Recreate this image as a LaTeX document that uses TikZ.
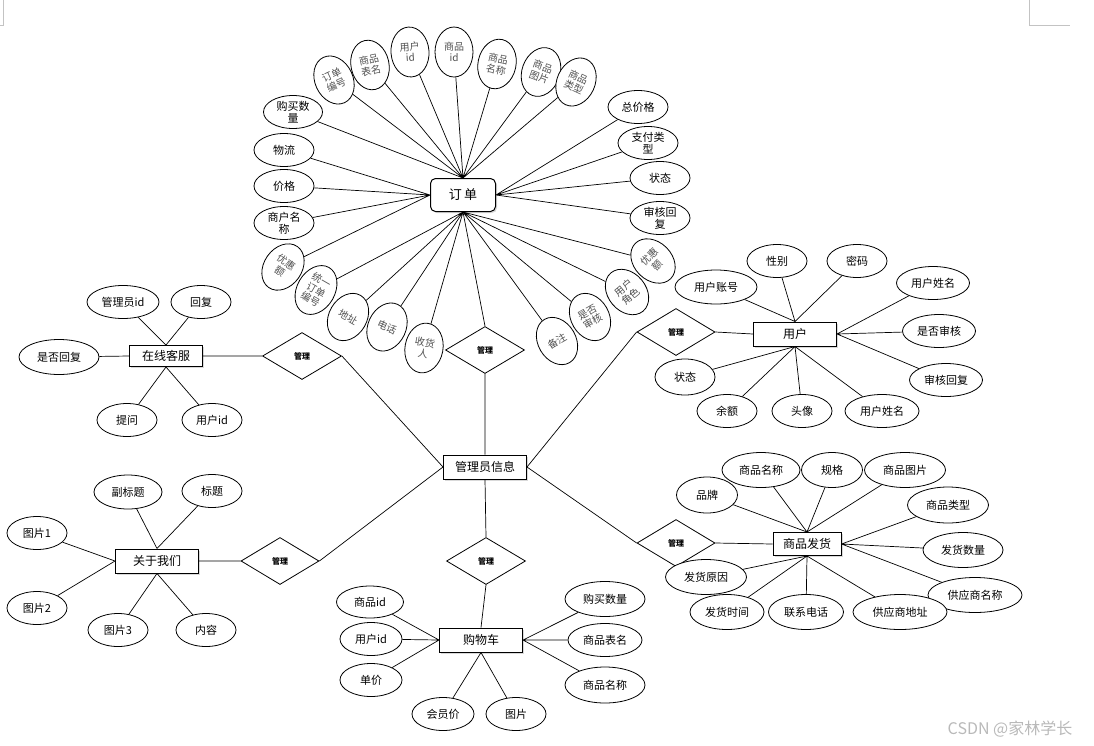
\documentclass[tikz,border=0pt]{standalone}
\usepackage{fontspec}
\setmainfont{Noto Sans CJK SC}
\usepackage{tikz}
\usetikzlibrary{shapes, shadows}
\definecolor{markgray}{RGB}{195,195,195}
\definecolor{tiltgray}{RGB}{80,80,80}
\definecolor{wmgray}{RGB}{185,185,185}
\tikzset{
  entity/.style={draw, line width=1pt, fill=white, minimum width=83pt, minimum height=24pt, inner sep=0pt,
    font=\fontsize{12}{14}\selectfont, drop shadow={shadow xshift=1.5pt, shadow yshift=-1.5pt, opacity=0.3}},
  attr/.style={draw, ellipse, fill=white, line width=0.8pt, minimum width=60pt, minimum height=33pt, inner sep=0pt,
    align=center, font=\fontsize{11}{12}\selectfont},
  tilted/.style={attr, minimum width=38pt, minimum height=50pt, text=tiltgray, rotate=#1,
    font=\fontsize{10}{11}\selectfont},
  rel/.style={draw, diamond, fill=white, line width=0.8pt, minimum width=79pt, minimum height=47pt, inner sep=0pt,
    font=\fontsize{8}{9}\selectfont\bfseries},
  link/.style={line width=0.7pt}
}

\begin{document}
\begin{tikzpicture}[x=1pt, y=-1pt]
  \useasboundingbox (0,0) rectangle (1094,745);
  % page corner marks
  \draw[markgray, line width=0.8pt] (0,25) -- (3,25) -- (3,0);
  \draw[markgray, line width=0.8pt] (1029,0) -- (1029,25) -- (1070,25);

  % entities
  \node[entity, rounded corners=5pt, minimum width=65pt, minimum height=33pt, font=\fontsize{13}{15}\selectfont] (order) at (463,195) {订\,单};
  \node[entity] (admin) at (485,467) {管理员信息};
  \node[entity, minimum width=73pt, minimum height=21pt] (kefu) at (166,356) {在线客服};
  \node[entity] (user) at (795,334) {用户};
  \node[entity] (about) at (157,561) {关于我们};
  \node[entity] (cart) at (481,640) {购物车};
  \node[entity, minimum width=68pt, minimum height=23pt] (ship) at (807,544) {商品发货};

  % relations
  \node[rel] (gl0) at (485,350) {管理};
  \node[rel] (gl1) at (302,356) {管理};
  \node[rel, minimum width=78pt] (gl2) at (676,332) {管理};
  \node[rel, minimum width=78pt] (gl3) at (280,561) {管理};
  \node[rel] (gl4) at (486,561) {管理};
  \node[rel, minimum width=78pt] (gl5) at (676,543) {管理};

  % order attributes
  \node[attr, minimum width=59pt] (obuy) at (293,112) {购买数\\量};
  \node[attr] (oflow) at (284,150) {物流};
  \node[attr] (oprice) at (284,186) {价格};
  \node[attr] (omerch) at (284,223) {商户名\\称};
  \node[attr] (ototal) at (638,107) {总价格};
  \node[attr] (opay) at (648,143) {支付类\\型};
  \node[attr] (ostate) at (660,178) {状态};
  \node[attr] (oreply) at (660,218) {审核回\\复};
  \node[tilted=25] (ono) at (334,80) {订单\\编号};
  \node[tilted=12] (otab) at (370,65) {商品\\表名};
  \node[tilted=4] (ouid) at (410,52) {用户\\id};
  \node[tilted=0] (ogid) at (454,52) {商品\\id};
  \node[tilted=-12] (ogname) at (497,64) {商品\\名称};
  \node[tilted=-20] (ogpic) at (541,72) {商品\\图片};
  \node[tilted=-25] (ogtype) at (576,82) {商品\\类型};
  \node[tilted=-35] (odisc) at (283,267) {优惠\\额};
  \node[tilted=-30, minimum height=52pt] (ouno) at (316,290) {统一\\订单\\编号};
  \node[tilted=-30] (oaddr) at (348,317) {地址};
  \node[tilted=-25] (otel) at (387,327) {电话};
  \node[tilted=-10] (orecv) at (424,348) {收货\\人};
  \node[tilted=30] (onote) at (557,341) {备注};
  \node[tilted=30] (ocheck) at (590,317) {是否\\审核};
  \node[tilted=40] (orole) at (627,292) {用户\\角色};
  \node[tilted=45] (odisc2) at (653,261) {优惠\\额};
  \draw[link] (obuy) -- (order.north) (ono) -- (order.north) (otab) -- (order.north)
    (ouid) -- (order.north) (ogid) -- (order.north) (ogname) -- (order.north)
    (ogpic) -- (order.north) (ogtype) -- (order.north);
  \draw[link] (oflow) -- (order.west) (oprice) -- (order.west) (omerch) -- (order.west) (odisc) -- (order.west);
  \draw[link] (ototal) -- (order.east) (opay) -- (order.east) (ostate) -- (order.east) (oreply) -- (order.east);
  \draw[link] (ouno) -- (order.south) (oaddr) -- (order.south) (otel) -- (order.south)
    (orecv) -- (order.south) (onote) -- (order.south) (ocheck) -- (order.south)
    (orole) -- (order.south) (odisc2) -- (order.south);

  % online service
  \node[attr, minimum width=72pt] (kadm) at (123,302) {管理员id};
  \node[attr] (kreply) at (201,302) {回复};
  \node[attr, minimum width=80pt, minimum height=35pt] (kdone) at (59,357) {是否回复};
  \node[attr] (kask) at (127,420) {提问};
  \node[attr] (kuid) at (212,420) {用户id};
  \draw[link] (kadm) -- (kefu.north) (kreply) -- (kefu.north) (kdone) -- (kefu.west)
    (kask) -- (kefu.south) (kuid) -- (kefu.south);

  % user
  \node[attr] (usex) at (777,261) {性别};
  \node[attr] (upwd) at (857,261) {密码};
  \node[attr, minimum width=82pt, minimum height=34pt] (uacc) at (716,287) {用户账号};
  \node[attr, minimum width=73pt] (uname) at (933,283) {用户姓名};
  \node[attr, minimum width=73pt] (ucheck) at (939,331) {是否审核};
  \node[attr, minimum width=73pt] (ureply) at (946,380) {审核回复};
  \node[attr, minimum height=36pt] (ustate) at (685,377) {状态};
  \node[attr] (ubal) at (727,411) {余额};
  \node[attr] (uhead) at (802,411) {头像};
  \node[attr, minimum width=74pt] (uname2) at (882,411) {用户姓名};
  \draw[link] (uacc) -- (user.north) (usex) -- (user.north) (upwd) -- (user.north)
    (uname) -- (user.east) (ucheck) -- (user.east) (ureply) -- (user.east)
    (ustate) -- (user.south) (ubal) -- (user.south) (uhead) -- (user.south) (uname2) -- (user.south);

  % about us
  \node[attr, minimum width=68pt, minimum height=34pt] (asub) at (128,492) {副标题};
  \node[attr] (atitle) at (212,491) {标题};
  \node[attr] (apic1) at (37,533) {图片1};
  \node[attr] (apic2) at (37,608) {图片2};
  \node[attr] (apic3) at (118,630) {图片3};
  \node[attr] (atext) at (206,630) {内容};
  \draw[link] (asub) -- (about.north) (atitle) -- (about.north) (apic1) -- (about.west)
    (apic2) -- (about.west) (apic3) -- (about.south) (atext) -- (about.south);

  % cart
  \node[attr, minimum width=67pt, minimum height=32pt] (cgid) at (370,602) {商品id};
  \node[attr, minimum width=62pt] (cuid) at (371,639) {用户id};
  \node[attr, minimum width=62pt] (cprice) at (371,680) {单价};
  \node[attr, minimum width=62pt] (cvip) at (443,714) {会员价};
  \node[attr] (cpic) at (516,714) {图片};
  \node[attr, minimum width=80pt, minimum height=35pt] (cnum) at (605,599) {购买数量};
  \node[attr, minimum width=74pt] (ctab) at (605,640) {商品表名};
  \node[attr, minimum width=80pt, minimum height=36pt] (cname) at (605,685) {商品名称};
  \draw[link] (cgid) -- (cart.west) (cuid) -- (cart.west) (cprice) -- (cart.west)
    (cvip) -- (cart.south) (cpic) -- (cart.south)
    (cnum) -- (cart.east) (ctab) -- (cart.east) (cname) -- (cart.east);

  % shipping
  \node[attr, minimum width=61pt, minimum height=36pt] (sbrand) at (707,495) {品牌};
  \node[attr, minimum width=78pt, minimum height=35pt] (sname) at (761,470) {商品名称};
  \node[attr, minimum width=61pt, minimum height=35pt] (sspec) at (832,470) {规格};
  \node[attr, minimum width=81pt, minimum height=35pt] (spic) at (905,470) {商品图片};
  \node[attr, minimum width=81pt, minimum height=36pt] (stype) at (948,505) {商品类型};
  \node[attr, minimum width=80pt, minimum height=35pt] (snum) at (963,550) {发货数量};
  \node[attr, minimum width=94pt, minimum height=35pt] (ssup) at (975,595) {供应商名称};
  \node[attr, minimum width=94pt, minimum height=35pt] (saddr) at (900,612) {供应商地址};
  \node[attr, minimum width=75pt, minimum height=35pt] (stel) at (806,612) {联系电话};
  \node[attr, minimum width=74pt, minimum height=35pt] (stime) at (727,612) {发货时间};
  \node[attr, minimum width=81pt, minimum height=35pt] (swhy) at (706,577) {发货原因};
  \draw[link] (sbrand) -- (ship.north) (sname) -- (ship.north) (sspec) -- (ship.north) (spic) -- (ship.north)
    (stype) -- (ship.east) (snum) -- (ship.east) (ssup) -- (ship.east)
    (swhy) -- (ship.south) (stime) -- (ship.south) (stel) -- (ship.south) (saddr) -- (ship.south);

  % relations to admin
  \draw[link] (order.south) -- (gl0.north) (gl0.south) -- (admin.north);
  \draw[link] (kefu.east) -- (gl1.west) (gl1.east) -- (admin.west);
  \draw[link] (user.west) -- (gl2.east) (gl2.west) -- (admin.east);
  \draw[link] (about.east) -- (gl3.west) (gl3.east) -- (admin.west);
  \draw[link] (admin.south) -- (gl4.north) (gl4.south) -- (cart.north);
  \draw[link] (ship.west) -- (gl5.east) (gl5.west) -- (admin.east);

  \node[text=wmgray, font=\fontsize{16}{18}\selectfont] (wm) at (1010,729) {CSDN @家林学长};
\end{tikzpicture}
\end{document}
